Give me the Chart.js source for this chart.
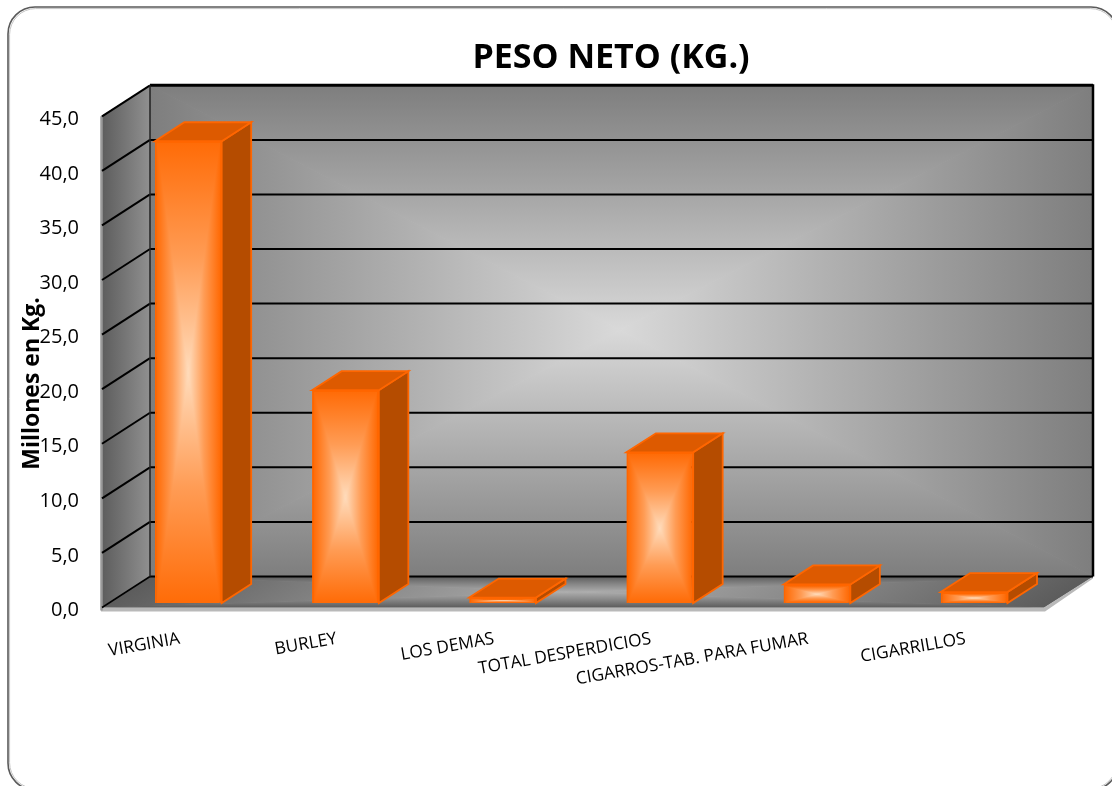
<!DOCTYPE html>
<html><head><meta charset="utf-8">
<style>html,body{margin:0;padding:0;background:#fff}#w{width:1112px;height:786px;position:relative}</style>
<script src="https://cdn.jsdelivr.net/npm/chart.js@4"></script>
</head><body><div id="w"><canvas id="c" width="1112" height="786"></canvas></div>
<script>
const categories = ['VIRGINIA','BURLEY','LOS DEMAS','TOTAL DESPERDICIOS','CIGARROS-TAB. PARA FUMAR','CIGARRILLOS'];
const pesoNeto = [42.3, 19.5, 0.5, 13.8, 1.7, 1.0];
const chartTitle = 'PESO NETO (KG.)';
const yAxisTitle = 'Millones en Kg.';
const FONT = '"Open Sans","Noto Sans",sans-serif';
const LIFT = 3;
const WALL = {dx:49, dy:-31};
const BAR = {dx:29.5, dy:-19, shiftX:9.2, shiftY:-4.5};

function pathFill(ctx, pts, cx, cy, stops){
  for(let pass=0;pass<3;pass++){
    for(let i=0;i<pts.length;i++){
      const a=pts[i], b=pts[(i+1)%pts.length];
      const ex=b[0]-a[0], ey=b[1]-a[1];
      const t=((cx-a[0])*ex+(cy-a[1])*ey)/(ex*ex+ey*ey);
      const fx=a[0]+t*ex, fy=a[1]+t*ey;
      const g=ctx.createLinearGradient(cx,cy,fx,fy);
      stops.forEach(s=>g.addColorStop(s[0],s[1]));
      ctx.fillStyle=g;
      ctx.beginPath(); ctx.moveTo(cx,cy); ctx.lineTo(a[0],a[1]); ctx.lineTo(b[0],b[1]); ctx.closePath();
      ctx.fill();
    }
  }
}
function poly(ctx, pts, fill, stroke, lw){
  ctx.beginPath(); pts.forEach((p,i)=>i?ctx.lineTo(p[0],p[1]):ctx.moveTo(p[0],p[1])); ctx.closePath();
  if(fill){ctx.fillStyle=fill;ctx.fill();}
  if(stroke){ctx.strokeStyle=stroke;ctx.lineWidth=lw;ctx.lineJoin='miter';ctx.stroke();}
}
function line(ctx,x1,y1,x2,y2,c,w){ctx.strokeStyle=c;ctx.lineWidth=w;ctx.beginPath();ctx.moveTo(x1,y1);ctx.lineTo(x2,y2);ctx.stroke();}

const scene = {
  id:'scene',
  afterLayout(chart){
    if(chart.titleBlock){chart.titleBlock.left=110;chart.titleBlock.right=1112;}
  },
  beforeDraw(chart){
    const ctx=chart.ctx;
    ctx.save();
    ctx.beginPath(); ctx.roundRect(8,7,1110,783,27); ctx.strokeStyle='#5a5a5a'; ctx.lineWidth=1.6; ctx.stroke();
    ctx.beginPath(); ctx.roundRect(9.6,8.6,1107,780,26); ctx.strokeStyle='#c4c4c4'; ctx.lineWidth=1; ctx.stroke();
    ctx.restore();
  },
  beforeDatasetsDraw(chart){
    const ctx=chart.ctx, a=chart.chartArea, y=chart.scales.y;
    const L=a.left,R=a.right,T=y.getPixelForValue(45)-LIFT,B=y.getPixelForValue(0)-LIFT;
    const d=WALL;
    ctx.save();
    pathFill(ctx,[[L+d.dx,T+d.dy],[R+d.dx,T+d.dy],[R+d.dx,B+d.dy],[L+d.dx,B+d.dy]],620,330,
      [[0,'#d9d9d9'],[0.5,'#ababab'],[1,'#7e7e7e']]);
    const g=ctx.createLinearGradient(L,0,L+d.dx,0); g.addColorStop(0,'#5c5c5c'); g.addColorStop(1,'#909090');
    poly(ctx,[[L,T],[L+d.dx,T+d.dy],[L+d.dx,B+d.dy],[L,B]],g);
    pathFill(ctx,[[L+d.dx,B+d.dy],[R+d.dx,B+d.dy],[R,B],[L,B]],575,592,
      [[0,'#adadad'],[0.5,'#878787'],[1,'#5c5c5c']]);
    poly(ctx,[[L,B],[R,B],[R+d.dx,B+d.dy],[R+d.dx,B+d.dy+2],[R+1,B+4],[L,B+4]],'#b9b9b9');
    line(ctx,L+0.5,T,L+0.5,B+3,'#9a9a9a',2.5);
    y.ticks.forEach(t=>{
      const p=y.getPixelForValue(t.value)-LIFT;
      line(ctx,L+d.dx,p+d.dy,R+d.dx,p+d.dy,'#000',t.value===45?3:2);
      line(ctx,L+1,p,L+d.dx,p+d.dy,'#000',t.value===0?1.5:2);
    });
    line(ctx,L+d.dx,T+d.dy,L+d.dx,B+d.dy,'#222',1.5);
    line(ctx,R+d.dx,T+d.dy-1,R+d.dx,B+d.dy,'#000',2.5);
    const s=BAR;
    chart.getDatasetMeta(0).data.forEach(el=>{
      const p=el.getProps(['x','y','base','width'],true);
      const l=p.x-p.width/2+s.shiftX-0.5, r=p.x+p.width/2+s.shiftX-0.5, t=p.y+s.shiftY-LIFT, b=p.base+s.shiftY-LIFT;
      poly(ctx,[[r,t],[r+s.dx,t+s.dy],[r+s.dx,b+s.dy],[r,b]],'#b54c00','#ff6600',1.8);
      poly(ctx,[[l,t],[l+s.dx,t+s.dy],[r+s.dx,t+s.dy],[r,t]],'#dd5a00','#ff6600',1.8);
    });
    ctx.restore();
    ctx.save();
    ctx.translate(BAR.shiftX-0.5,BAR.shiftY-LIFT);
  },
  afterDatasetsDraw(chart){
    const ctx=chart.ctx;
    chart.getDatasetMeta(0).data.forEach(el=>{
      const p=el.getProps(['x','y','base','width'],true);
      const l=p.x-p.width/2+2, r=p.x+p.width/2-2, t=p.y+2, b=p.base-1;
      pathFill(ctx,[[l,t],[r,t],[r,b],[l,b]],p.x,(t+b)/2,
        [[0,'#ffdcbc'],[0.5,'#ff9c55'],[1,'#ff6c08']]);
    });
    ctx.restore();
  },
  afterDraw(chart){
    const ctx=chart.ctx;
    ctx.save();
    ctx.translate(32,383.5); ctx.rotate(-Math.PI/2);
    ctx.font='bold 23px '+FONT; ctx.fillStyle='#000'; ctx.textAlign='center'; ctx.textBaseline='middle';
    ctx.fillText(yAxisTitle,0,0);
    ctx.restore();
  }
};

new Chart(document.getElementById('c'),{
  type:'bar',
  data:{labels:categories,datasets:[{data:pesoNeto,backgroundColor:'#ff6c08',borderColor:'#ff6600',borderWidth:2,
    barPercentage:0.425,categoryPercentage:1,clip:false}]},
  options:{
    responsive:false,animation:false,
    layout:{padding:{left:20,right:68,top:0,bottom:0}},
    plugins:{legend:{display:false},tooltip:{enabled:false},
      title:{display:true,text:chartTitle,color:'#000',font:{family:FONT,size:34,weight:'bold'},padding:{top:38,bottom:40.5}}},
    scales:{
      x:{grid:{display:false,drawTicks:false},border:{display:false},
        afterFit(s){s.height=786-610.5;},
        ticks:{autoSkip:false,minRotation:10,maxRotation:10,color:'#000',padding:18,font:{family:FONT,size:17.3}}},
      y:{min:0,max:45,grid:{display:false,drawTicks:false},border:{display:false},
        afterFit(s){s.width=81;},
        ticks:{stepSize:5,color:'#000',padding:22,font:{family:FONT,size:20},callback:v=>v.toFixed(1).replace('.',',')}}
    }
  },
  plugins:[scene]
});
</script></body></html>
